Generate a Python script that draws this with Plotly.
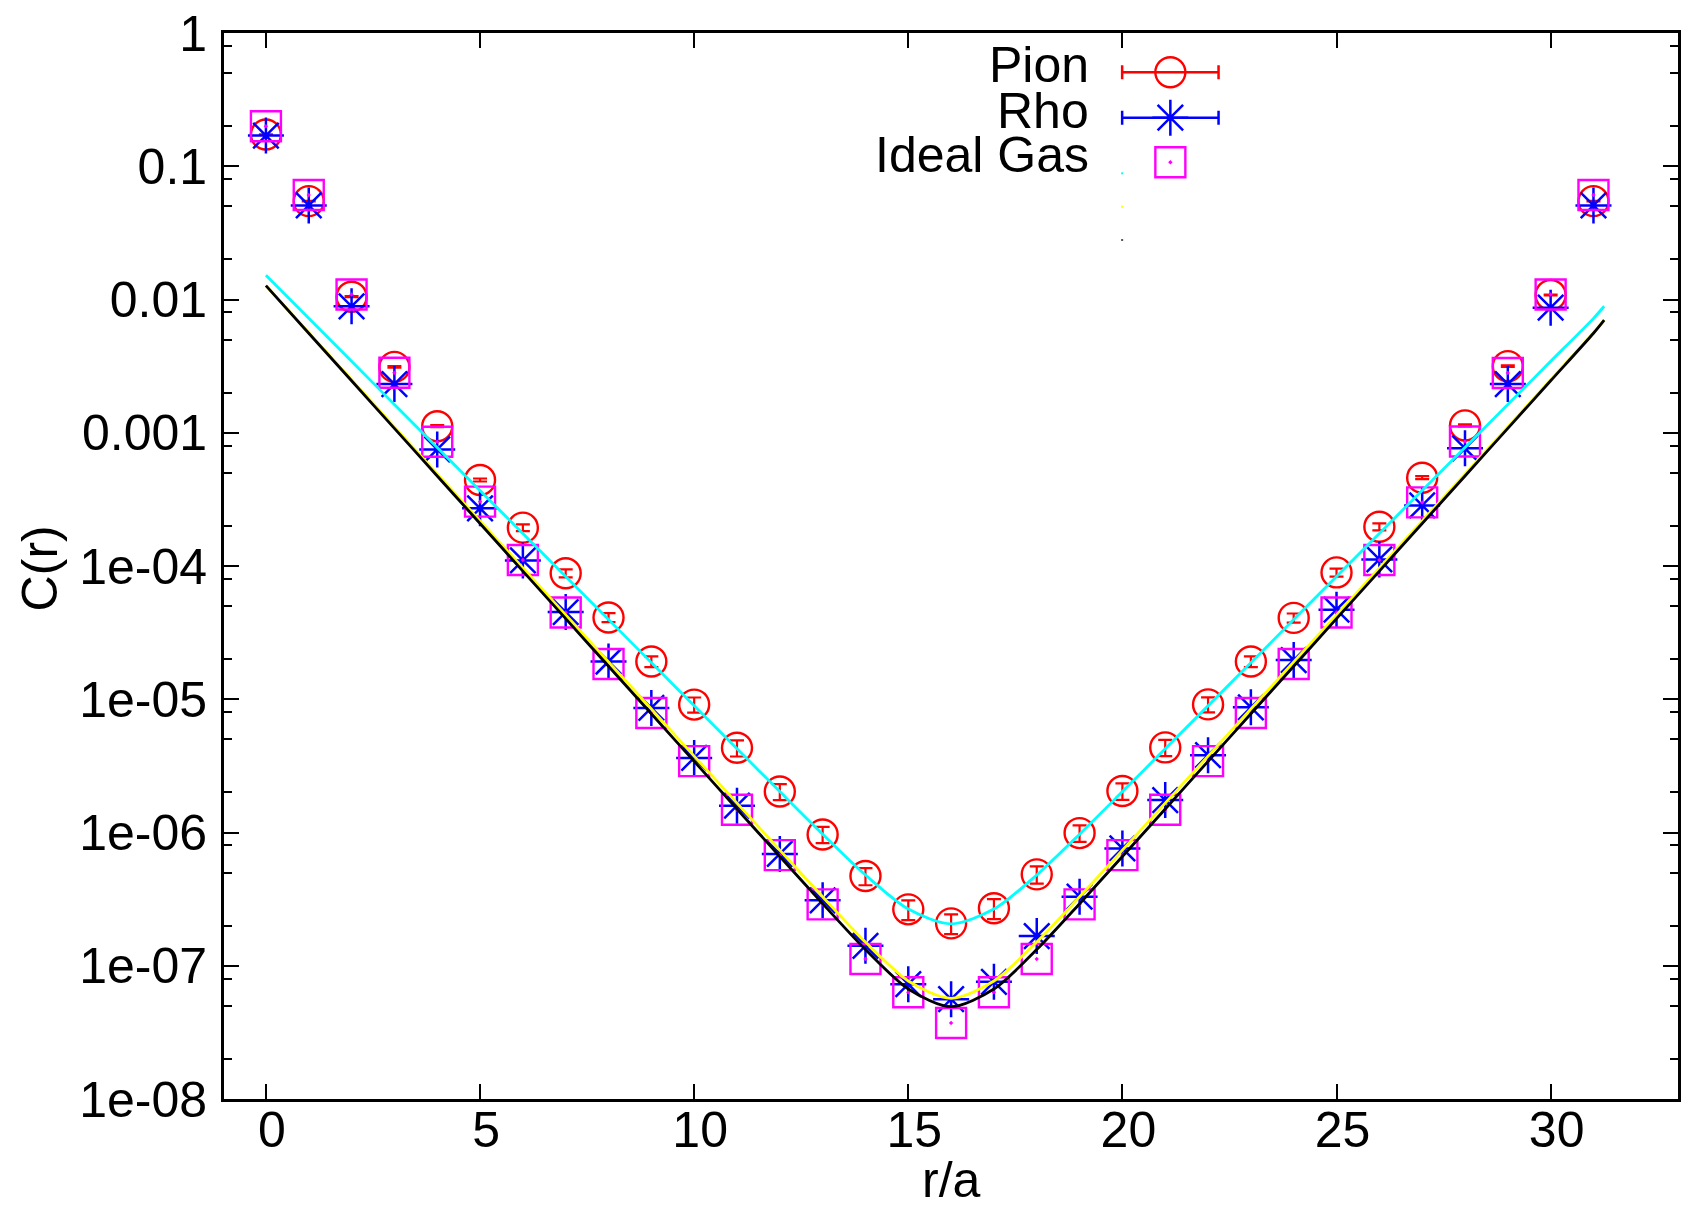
import plotly.graph_objects as go

# ---------------- data ----------------
r = list(range(32))

pion = [0.173, 0.0547, 0.0105, 0.00312, 0.00112, 4.42e-4, 1.94e-4, 8.83e-5,
        4.11e-5, 1.92e-5, 9.12e-6, 4.32e-6, 2.03e-6, 9.67e-7, 4.71e-7, 2.65e-7,
        2.08e-7, 2.70e-7, 4.85e-7, 9.9e-7, 2.05e-6, 4.35e-6, 9.15e-6, 1.92e-5,
        4.08e-5, 8.95e-5, 1.97e-4, 4.6e-4, 1.135e-3, 3.16e-3, 0.0108, 0.0547]
pion_err = [6.9e-4, 2.7e-4, 8.4e-5, 3.7e-5, 2.0e-5, 1.15e-5, 1.16e-5, 6.1e-6,
            3.2e-6, 1.8e-6, 1.19e-6, 6.0e-7, 2.8e-7, 1.35e-7, 6.9e-8, 4.5e-8,
            3.5e-8, 4.6e-8, 7.1e-8, 1.4e-7, 2.9e-7, 6.1e-7, 1.19e-6, 1.8e-6,
            3.2e-6, 6.2e-6, 1.18e-5, 1.2e-5, 2.0e-5, 3.8e-5, 8.6e-5, 2.7e-4]

rho = [0.170, 0.0508, 0.00889, 0.00232, 7.5e-4, 2.71e-4, 1.10e-4, 4.51e-5,
       1.92e-5, 8.6e-6, 3.63e-6, 1.59e-6, 6.9e-7, 3.1e-7, 1.41e-7, 7.27e-8,
       5.61e-8, 7.57e-8, 1.67e-7, 3.3e-7, 7.6e-7, 1.75e-6, 3.8e-6, 8.7e-6,
       1.97e-5, 4.7e-5, 1.12e-4, 2.85e-4, 7.64e-4, 2.32e-3, 8.69e-3, 0.0508]

ideal = [0.1996, 0.0609, 0.0109, 2.82e-3, 8.56e-4, 3.04e-4, 1.11e-4, 4.48e-5,
         1.84e-5, 7.89e-6, 3.43e-6, 1.48e-6, 6.76e-7, 2.89e-7, 1.125e-7, 6.33e-8,
         3.72e-8, 6.33e-8, 1.125e-7, 2.89e-7, 6.76e-7, 1.48e-6, 3.43e-6, 7.89e-6,
         1.84e-5, 4.48e-5, 1.11e-4, 3.0e-4, 8.6e-4, 2.81e-3, 0.0109, 0.0609]

# fit curves, read at integer r and at the curve end
r_curve = list(range(32)) + [31.25]
fit_cyan = [0.0152, 7.22e-3, 3.434e-3, 1.632e-3, 7.76e-4, 3.69e-4, 1.753e-4, 8.33e-5,
            3.96e-5, 1.883e-5, 8.95e-6, 4.256e-6, 2.027e-6, 9.72e-7, 4.80e-7, 2.662e-7,
            2.064e-7, 2.662e-7, 4.80e-7, 9.72e-7, 2.027e-6, 4.256e-6, 8.95e-6, 1.883e-5,
            3.96e-5, 8.33e-5, 1.753e-4, 3.69e-4, 7.76e-4, 1.632e-3, 3.434e-3, 7.22e-3, 8.9e-3]
fit_yellow = [0.0127, 5.632e-3, 2.498e-3, 1.108e-3, 4.915e-4, 2.181e-4, 9.67e-5, 4.29e-5,
              1.903e-5, 8.44e-6, 3.744e-6, 1.661e-6, 7.377e-7, 3.292e-7, 1.505e-7, 7.69e-8,
              5.70e-8, 7.69e-8, 1.505e-7, 3.292e-7, 7.377e-7, 1.661e-6, 3.744e-6, 8.44e-6,
              1.903e-5, 4.29e-5, 9.67e-5, 2.181e-4, 4.915e-4, 1.108e-3, 2.498e-3, 5.632e-3, 7.0e-3]
fit_black = [0.0127, 5.58e-3, 2.454e-3, 1.078e-3, 4.74e-4, 2.084e-4, 9.16e-5, 4.025e-5,
             1.769e-5, 7.78e-6, 3.418e-6, 1.502e-6, 6.61e-7, 2.923e-7, 1.323e-7, 6.69e-8,
             4.93e-8, 6.69e-8, 1.323e-7, 2.923e-7, 6.61e-7, 1.502e-6, 3.418e-6, 7.78e-6,
             1.769e-5, 4.025e-5, 9.16e-5, 2.084e-4, 4.74e-4, 1.078e-3, 2.454e-3, 5.58e-3, 7.0e-3]

x_ticks = [0, 5, 10, 15, 20, 25, 30]
y_ticks = [1e-8, 1e-7, 1e-6, 1e-5, 1e-4, 1e-3, 1e-2, 1e-1, 1]
y_ticktext = ["1e-08", "1e-07", "1e-06", "1e-05", "1e-04", "0.001", "0.01", "0.1", "1"]
y_minor = [m * 10.0 ** e for e in range(-8, 0) for m in (2, 5, 8)]

legend_names = ["Pion", "Rho", "Ideal Gas"]

RED, BLUE, MAG = "#ff0000", "#0000ff", "#ff00ff"
FONT = "Liberation Sans, Arial, Helvetica, sans-serif"
FS = 50

fig = go.Figure()

fig.add_trace(go.Scatter(
    x=r, y=pion, mode="markers", name="Pion",
    marker=dict(symbol="circle-open", size=30, color=RED, line=dict(width=2.4, color=RED)),
    error_y=dict(type="data", array=pion_err, color=RED, thickness=2.2, width=7),
))
fig.add_trace(go.Scatter(
    x=r, y=rho, mode="markers", name="Rho",
    marker=dict(symbol="asterisk-open", size=30, color=BLUE, line=dict(width=2.5, color=BLUE)),
))
fig.add_trace(go.Scatter(
    x=r, y=ideal, mode="markers", name="Ideal Gas",
    marker=dict(symbol="square-open-dot", size=30, color=MAG, line=dict(width=2.4, color=MAG)),
))
for vals, col in ((fit_cyan, "#00ffff"), (fit_yellow, "#ffff00"), (fit_black, "#000000")):
    fig.add_trace(go.Scatter(
        x=r_curve, y=vals, mode="lines", showlegend=False,
        line=dict(color=col, width=2.8, shape="spline", smoothing=0.8),
    ))

# ---------------- hand-built legend (text left of samples) ----------------
W, H, L, T = 1457.0, 1066.0, 224.0, 33.0
def px(xp):
    return (xp - L) / W
def py(yp):
    return 1 - (yp - T) / H

rows_y = [72.3, 117.7, 162.3]
samp_x = 1172.3
half_bar = 48.3 / W

fig.add_trace(go.Scatter(
    x=[px(samp_x)], y=[py(rows_y[0])], xaxis="x2", yaxis="y2", mode="markers",
    marker=dict(symbol="circle-open", size=30, color=RED, line=dict(width=2.4, color=RED)),
    error_x=dict(type="constant", value=half_bar, color=RED, thickness=2.5, width=7),
    showlegend=False, cliponaxis=False, hoverinfo="skip"))
fig.add_trace(go.Scatter(
    x=[px(samp_x)], y=[py(rows_y[1])], xaxis="x2", yaxis="y2", mode="markers",
    marker=dict(symbol="asterisk-open", size=30, color=BLUE, line=dict(width=2.5, color=BLUE)),
    error_x=dict(type="constant", value=half_bar, color=BLUE, thickness=2.5, width=7),
    showlegend=False, cliponaxis=False, hoverinfo="skip"))
fig.add_trace(go.Scatter(
    x=[px(samp_x)], y=[py(rows_y[2])], xaxis="x2", yaxis="y2", mode="markers",
    marker=dict(symbol="square-open-dot", size=30, color=MAG, line=dict(width=2.4, color=MAG)),
    showlegend=False, cliponaxis=False, hoverinfo="skip"))
for yy, col in ((173.3, "#00ffff"), (206.7, "#ffff00"), (240.0, "#555555")):
    fig.add_trace(go.Scatter(
        x=[px(1124)], y=[py(yy)], xaxis="x2", yaxis="y2", mode="markers",
        marker=dict(symbol="square", size=2, color=col),
        showlegend=False, cliponaxis=False, hoverinfo="skip"))

annotations = []
for name, yy in zip(legend_names, rows_y):
    annotations.append(dict(text=name, xref="paper", yref="paper", x=px(1093), y=py(yy - 7),
                            xanchor="right", yanchor="middle", showarrow=False,
                            font=dict(family=FONT, size=FS, color="black")))
annotations.append(dict(text="r/a", xref="paper", yref="paper", x=px(952.5), y=py(1180),
                        xanchor="center", yanchor="middle", showarrow=False,
                        font=dict(family=FONT, size=FS, color="black")))
annotations.append(dict(text="C(r)", xref="paper", yref="paper", x=px(40), y=py(568),
                        xanchor="center", yanchor="middle", showarrow=False, textangle=-90,
                        font=dict(family=FONT, size=FS, color="black")))

axis_common = dict(showline=True, linewidth=2.8, linecolor="black", mirror="ticks",
                   ticks="inside", ticklen=15, tickwidth=2.2, tickcolor="black",
                   showgrid=False, zeroline=False,
                   tickfont=dict(family=FONT, size=FS, color="black"))

fig.update_layout(
    width=1681, height=1207,
    margin=dict(l=224, r=0, t=33, b=108, pad=0),
    plot_bgcolor="white", paper_bgcolor="white",
    showlegend=False,
    font=dict(family=FONT, size=FS, color="black"),
    xaxis=dict(range=[-0.979, 32.974], tickmode="array", tickvals=x_ticks,
               ticklabelstandoff=-15, ticklabelshift=6, **axis_common),
    yaxis=dict(type="log", range=[-8, 0], tickmode="array", tickvals=y_ticks,
               ticktext=y_ticktext, ticklabelstandoff=4,
               minor=dict(tickmode="array", tickvals=y_minor, ticks="inside", ticklen=8,
                          tickwidth=2.2, tickcolor="black", showgrid=False),
               **axis_common),
    xaxis2=dict(overlaying="x", range=[0, 1], visible=False, anchor="y2"),
    yaxis2=dict(overlaying="y", range=[0, 1], visible=False, anchor="x2"),
    annotations=annotations,
)

fig.write_html("out.html")
